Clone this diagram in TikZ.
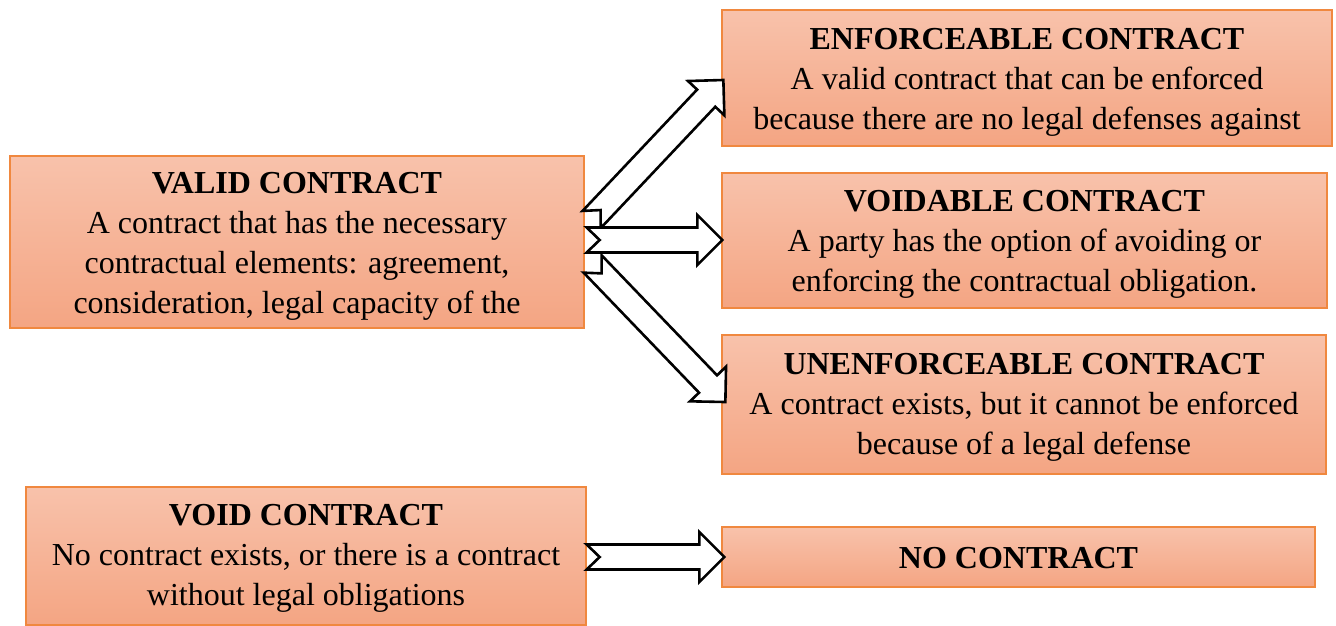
\documentclass[tikz,border=0pt]{standalone}
\usepackage{fontspec}
\setmainfont{Liberation Serif}
\usetikzlibrary{calc}
\definecolor{boxtop}{HTML}{F8C2AB}
\definecolor{boxbot}{HTML}{F4A583}
\definecolor{boxline}{HTML}{F0883F}
\newcommand{\blockarrow}[2]{%
  \draw[blockarr] let \p1=(#1), \p2=(#2),
      \n1={atan2(\y2-\y1,\x2-\x1)}, \n2={veclen(\x2-\x1,\y2-\y1)},
      \n3={veclen(\x2-\x1,\y2-\y1)-25pt} in
    ($(\p1)+({\n1+90}:12.5pt)$)
    -- ($(\p1)+({\n1}:\n3)+({\n1+90}:12.5pt)$)
    -- ($(\p1)+({\n1}:\n3)+({\n1+90}:25pt)$)
    -- ($(\p1)+({\n1}:\n2)$)
    -- ($(\p1)+({\n1}:\n3)+({\n1-90}:25pt)$)
    -- ($(\p1)+({\n1}:\n3)+({\n1-90}:12.5pt)$)
    -- ($(\p1)+({\n1-90}:12.5pt)$)
    -- ($(\p1)+({\n1}:13pt)$)
    -- cycle;}
\begin{document}
\begin{tikzpicture}[x=1pt,y=-1pt,
  box/.style={draw=boxline, line width=1.3pt, top color=boxtop, bottom color=boxbot,
    rectangle, inner sep=0pt},
  txt/.style={align=center, inner sep=0pt, font=\fontsize{32}{40}\selectfont},
  blockarr/.style={draw=black, fill=white, line width=2.6pt, line join=miter}]
\useasboundingbox (0,0) rectangle (1336,625);

\node[box, minimum width=574pt, minimum height=172pt] (valid) at (297,242) {};
\node[box, minimum width=610pt, minimum height=136pt] (enf) at (1027,78) {};
\node[box, minimum width=605pt, minimum height=135pt] (voidable) at (1024.5,240.5) {};
\node[box, minimum width=604pt, minimum height=139pt] (unenf) at (1024,404.5) {};
\node[box, minimum width=560pt, minimum height=138pt] (void) at (306,556) {};
\node[box, minimum width=593pt, minimum height=60pt] (none) at (1018.5,557) {};

\node[txt] (validt) at ($(valid.center)+(0,4)$)
  {\textbf{VALID CONTRACT}\\A contract that has the necessary\\contractual elements: agreement,\\consideration, legal capacity of the};
\node[txt] (enft) at ($(enf.center)+(0,4)$)
  {\textbf{ENFORCEABLE CONTRACT}\\A valid contract that can be enforced\\because there are no legal defenses against};
\node[txt] (voidablet) at ($(voidable.center)+(0,4)$)
  {\textbf{VOIDABLE CONTRACT}\\A party has the option of avoiding or\\enforcing the contractual obligation.};
\node[txt] (unenft) at ($(unenf.center)+(0,3)$)
  {\textbf{UNENFORCEABLE CONTRACT}\\A contract exists, but it cannot be enforced\\because of a legal defense};
\node[txt] (voidt) at ($(void.center)+(0,2)$)
  {\textbf{VOID CONTRACT}\\No contract exists, or there is a contract\\without legal obligations};
\node[txt] (nonet) at ($(none.center)+(0,1)$)
  {\textbf{NO CONTRACT}};

\coordinate (t1) at ($(valid.east)+(7,-22.5)$);
\coordinate (h1) at ($(enf.west)+(2,2)$);
\coordinate (t2) at ($(valid.east)+(2,-2)$);
\coordinate (h2) at ($(voidable.west)+(1,-0.5)$);
\coordinate (t3) at ($(valid.east)+(8,22)$);
\coordinate (h3) at ($(unenf.west)+(4,-2.5)$);
\coordinate (t4) at ($(void.east)+(0,1)$);
\coordinate (h4) at ($(none.west)+(3,0)$);

\blockarrow{t1}{h1}
\blockarrow{t3}{h3}
\blockarrow{t2}{h2}
\blockarrow{t4}{h4}
\end{tikzpicture}
\end{document}
